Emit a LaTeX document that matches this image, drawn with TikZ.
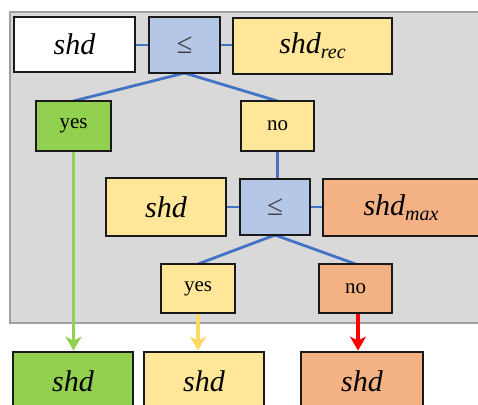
\documentclass[tikz,border=0pt]{standalone}
\usepackage{fontspec}
\setmainfont{Liberation Serif}
\usetikzlibrary{arrows.meta}
\definecolor{panelgray}{HTML}{D9D9D9}
\definecolor{paneledge}{HTML}{A0A0A0}
\definecolor{cmpblue}{HTML}{B4C7E7}
\definecolor{linkblue}{HTML}{4472C4}
\definecolor{okgreen}{HTML}{92D050}
\definecolor{softyellow}{HTML}{FFE699}
\definecolor{arrowyellow}{HTML}{FFD966}
\definecolor{softorange}{HTML}{F4B183}
\definecolor{lesscol}{HTML}{404040}
\tikzset{
  box/.style={draw=black!90, line width=2.8pt, inner sep=0pt, anchor=center},
  varbox/.style={box, font=\fontsize{30}{30}\selectfont\itshape},
  cmpbox/.style={box, fill=cmpblue, font=\fontsize{29}{29}\selectfont, text=lesscol},
  ansbox/.style={box, font=\fontsize{21}{21}\selectfont},
  link/.style={draw=linkblue, line width=2.8pt},
  outarrow/.style={line width=3.8pt, -{Stealth[length=14pt,width=16pt,inset=4pt]}}
}
\newcommand{\subtxt}[1]{\raisebox{-5pt}{\fontsize{20}{20}\selectfont #1}}
\begin{document}
\begin{tikzpicture}[x=1pt,y=-1pt]
  \useasboundingbox (0,0) rectangle (478,404);
  % gray panel
  \fill[panelgray] (10,12) rectangle (485,323);
  \draw[paneledge, line width=2.8pt] (485,323) -- (10,323) -- (10,12) -- (485,12);

  % blue links (behind the boxes)
  \coordinate (t1) at (184.5,73);
  \coordinate (t2) at (275,235);
  \draw[link] (40,45) -- (300,45);
  \draw[link] (t1) -- (73.5,101);
  \draw[link] (t1) -- (277.5,101);
  \draw[link] (277.5,151) -- (277.5,179);
  \draw[link] (200,207) -- (350,207);
  \draw[link] (t2) -- (198,264);
  \draw[link] (t2) -- (355.5,264);

  % first comparison
  \node[varbox, fill=white, minimum width=121pt, minimum height=55pt] (s1) at (74.5,44.5) {shd};
  \node[cmpbox, minimum width=71pt, minimum height=56pt] (le1) at (184.5,45) {≤};
  \node[varbox, fill=softyellow, minimum width=159pt, minimum height=56pt] (rec) at (312.5,46) {shd\subtxt{rec}};
  \node[ansbox, fill=okgreen, minimum width=75pt, minimum height=50pt] (yes1) at (73.5,126) {yes};
  \node[ansbox, fill=softyellow, minimum width=73pt, minimum height=50pt] (no1) at (277.5,126) {no};

  % second comparison
  \node[varbox, fill=softyellow, minimum width=120pt, minimum height=58pt] (s2) at (166,207) {shd};
  \node[cmpbox, minimum width=70pt, minimum height=56pt] (le2) at (275,207) {≤};
  \node[varbox, fill=softorange, minimum width=156pt, minimum height=57pt] (max) at (401,207.5) {shd\subtxt{max}};
  \node[ansbox, fill=softyellow, minimum width=74pt, minimum height=49pt] (yes2) at (198,288.5) {yes};
  \node[ansbox, fill=softorange, minimum width=73pt, minimum height=49pt] (no2) at (355.5,288.5) {no};

  % outcomes
  \node[varbox, fill=okgreen, minimum width=120pt, minimum height=58pt] (b1) at (73,381) {shd};
  \node[varbox, fill=softyellow, minimum width=120pt, minimum height=58pt] (b2) at (204,381) {shd};
  \node[varbox, fill=softorange, minimum width=122pt, minimum height=58pt] (b3) at (362,381) {shd};

  % result arrows
  \draw[outarrow, okgreen] (yes1.south) -- (yes1.south |- b1.north);
  \draw[outarrow, arrowyellow] (yes2.south) -- (yes2.south |- b2.north);
  \draw[outarrow, red] ([xshift=2.5pt]no2.south) -- ([xshift=2.5pt]no2.south |- b3.north);
\end{tikzpicture}
\end{document}
